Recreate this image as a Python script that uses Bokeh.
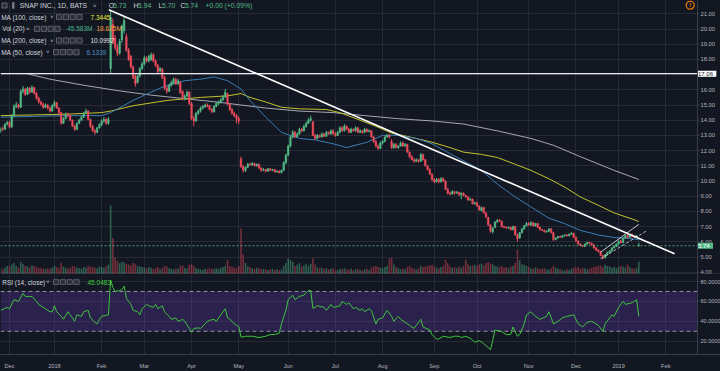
import numpy as np
from bokeh.plotting import figure
from bokeh.layouts import column
from bokeh.models import (Range1d, FixedTicker, Span, Label,
                          BoxAnnotation, Grid, ColumnDataSource, GlobalInlineStyleSheet)
from bokeh.embed import file_html
from bokeh.resources import INLINE

# ---------------- data ----------------
FIRST_BAR = -4          # index of first bar (27 Nov 2017); index 0 = 1 Dec 2017
MONTH_TICKS = [0, 20, 41, 60, 81, 102, 124, 145, 166, 189, 208, 231, 252, 271, 292]
MONTH_LABELS = ["Dec", "2018", "Feb", "Mar", "Apr", "May", "Jun", "Jul", "Aug",
                "Sep", "Oct", "Nov", "Dec", "2019", "Feb"]
PRICE_TICKS = [4, 5, 6, 7, 8, 9, 10, 11, 12, 13, 14, 15, 16, 17, 18, 19, 20, 21]
RSI_TICKS = [20, 40, 60, 80]

OPEN = [
    13.25, 13.45, 13.40, 13.75,
    13.85, 13.55, 14.30, 14.90, 15.00, 14.85, 15.90, 16.05, 15.70, 16.10, 15.85, 16.15, 15.75, 15.45, 15.20, 15.05, 14.85, 15.00, 14.80, 14.60,
    14.95, 15.15, 14.80, 14.50, 13.80, 14.10, 14.40, 14.30, 14.00, 13.60, 13.40, 13.80, 14.00, 14.20, 14.45, 14.60, 14.05, 13.60, 13.30, 13.20, 13.50,
    13.70, 13.95, 14.05, 13.80, 17.40, 20.30, 19.40, 18.80, 18.40, 19.30, 19.90, 19.50, 18.60, 18.20, 17.50, 16.90, 16.50, 16.90, 17.40,
    17.70, 18.10, 17.90, 18.00, 18.30, 17.90, 17.60, 17.25, 17.35, 16.80, 16.10, 15.90, 16.30, 16.40, 16.70, 16.40, 16.50, 15.90, 15.40, 15.60, 15.85,
    15.10, 14.10, 13.95, 14.45, 14.60, 14.80, 14.90, 15.00, 14.95, 14.70, 14.55, 14.90, 15.10, 15.20, 15.35, 15.55, 15.75, 15.05, 14.70, 14.45, 14.30,
    14.10, 11.45, 10.95, 10.70, 10.90, 11.10, 11.05, 11.15, 11.00, 11.10, 10.85, 10.70, 10.75, 10.65, 10.80, 10.70, 10.75, 10.60, 10.65, 10.55, 10.70, 11.20,
    11.70, 12.30, 12.90, 13.20, 12.90, 13.10, 13.40, 13.30, 13.60, 13.80, 14.00, 13.90, 13.00, 12.80, 13.00, 12.90, 13.10, 12.95, 13.20, 13.10, 13.30,
    13.10, 13.00, 13.20, 13.50, 13.30, 13.60, 13.40, 13.20, 13.40, 13.30, 13.50, 13.20, 13.30, 13.20, 13.40, 13.25, 13.30, 12.90, 12.60, 12.30, 12.15,
    12.50, 12.60, 12.90, 13.00, 12.60, 12.20, 12.40, 12.20, 12.30, 12.50, 12.30, 12.40, 11.90, 11.60, 11.40, 11.30, 11.40, 11.30, 11.75, 11.40, 11.00, 10.75, 10.45,
    10.10, 9.95, 10.10, 9.95, 10.15, 10.00, 9.45, 9.20, 9.15, 9.30, 9.20, 9.25, 9.10, 9.20, 9.05, 8.95, 8.75, 8.80, 8.50,
    8.55, 8.35, 8.05, 8.25, 7.90, 7.60, 7.10, 6.65, 6.95, 7.30, 7.40, 7.35, 7.00, 6.95, 6.90, 6.95, 6.80, 7.00, 6.45, 6.25, 6.60, 6.85, 7.05,
    7.20, 7.10, 7.25, 7.05, 7.20, 6.95, 6.80, 6.75, 6.65, 6.70, 6.85, 6.60, 6.15, 6.25, 6.35, 6.30, 6.40, 6.45, 6.40, 6.50, 6.55,
    6.30, 6.05, 5.85, 5.75, 5.70, 5.85, 5.95, 5.90, 5.80, 5.60, 5.45, 5.35, 5.10, 4.95, 5.15, 5.30, 5.40, 5.60, 5.70,
    5.85, 6.05, 5.95, 6.25, 6.40, 6.30, 6.45, 6.35, 6.30, 5.73,
]
CLOSE = [
    13.45, 13.40, 13.75, 13.85,
    13.55, 14.30, 14.90, 15.00, 14.85, 15.90, 16.05, 15.70, 16.10, 15.85, 16.15, 15.75, 15.45, 15.20, 15.05, 14.85, 15.00, 14.80, 14.60, 14.95,
    15.15, 14.80, 14.50, 13.80, 14.10, 14.40, 14.30, 14.00, 13.60, 13.40, 13.80, 14.00, 14.20, 14.45, 14.60, 14.05, 13.60, 13.30, 13.20, 13.50, 13.70,
    13.95, 14.05, 13.80, 14.05, 20.75, 19.20, 18.80, 18.40, 19.20, 20.20, 20.55, 18.60, 18.00, 17.50, 16.80, 16.40, 16.90, 17.40, 17.70,
    18.10, 17.90, 18.20, 18.30, 17.90, 17.60, 17.20, 17.40, 16.80, 16.10, 15.90, 16.30, 16.50, 16.70, 16.40, 16.60, 15.80, 15.40, 15.60, 15.85, 15.10,
    14.10, 13.95, 14.45, 14.60, 14.80, 14.90, 15.00, 14.90, 14.70, 14.55, 14.90, 15.10, 15.20, 15.35, 15.55, 15.85, 15.05, 14.70, 14.45, 14.30, 14.10,
    13.95, 10.95, 10.70, 10.90, 11.10, 11.05, 11.15, 11.00, 11.10, 10.85, 10.70, 10.75, 10.65, 10.80, 10.70, 10.75, 10.60, 10.65, 10.55, 10.70, 11.20, 11.70,
    12.30, 12.90, 13.20, 12.90, 13.10, 13.40, 13.30, 13.60, 13.80, 14.00, 14.10, 13.00, 12.80, 13.00, 12.90, 13.10, 12.95, 13.20, 13.10, 13.30, 13.10,
    13.00, 13.20, 13.50, 13.30, 13.60, 13.40, 13.20, 13.40, 13.30, 13.50, 13.20, 13.30, 13.20, 13.40, 13.25, 13.30, 12.90, 12.60, 12.30, 12.15, 12.50,
    12.60, 12.90, 13.00, 12.90, 12.20, 12.40, 12.20, 12.30, 12.50, 12.30, 12.40, 11.90, 11.60, 11.40, 11.30, 11.40, 11.30, 11.75, 11.40, 11.00, 10.75, 10.45, 10.10,
    9.95, 10.10, 9.95, 10.15, 10.00, 9.45, 9.20, 9.15, 9.30, 9.20, 9.25, 9.10, 9.20, 9.05, 8.95, 8.75, 8.80, 8.50, 8.55,
    8.35, 8.10, 8.25, 7.90, 7.65, 7.10, 6.70, 6.90, 7.30, 7.40, 7.35, 7.00, 6.95, 6.90, 6.95, 6.80, 7.00, 6.45, 6.20, 6.60, 6.85, 7.05, 7.20,
    7.10, 7.25, 7.05, 7.20, 6.95, 6.80, 6.75, 6.65, 6.70, 6.85, 6.60, 6.15, 6.25, 6.35, 6.30, 6.40, 6.45, 6.40, 6.50, 6.55, 6.30,
    6.05, 5.85, 5.75, 5.70, 5.85, 5.95, 5.90, 5.80, 5.60, 5.45, 5.35, 5.10, 4.95, 5.15, 5.30, 5.40, 5.60, 5.70, 5.85,
    6.05, 5.95, 6.25, 6.40, 6.30, 6.45, 6.35, 6.30, 6.40, 5.74,
]
HIGH = [
    13.55, 13.60, 13.80, 13.95,
    13.95, 14.40, 15.05, 15.20, 15.10, 16.00, 16.25, 16.10, 16.20, 16.20, 16.30, 16.20, 15.85, 15.55, 15.30, 15.15, 15.10, 15.05, 14.90, 15.05,
    15.30, 15.20, 14.85, 14.55, 14.20, 14.50, 14.50, 14.35, 14.05, 13.70, 13.85, 14.10, 14.30, 14.55, 14.75, 14.65, 14.10, 13.70, 13.40, 13.55, 13.80,
    14.05, 14.20, 14.15, 14.20, 21.22, 20.70, 19.60, 19.00, 19.35, 20.30, 20.80, 19.70, 18.75, 18.30, 17.60, 17.00, 17.00, 17.50, 17.85,
    18.25, 18.20, 18.30, 18.45, 18.40, 18.00, 17.70, 17.50, 17.45, 16.90, 16.25, 16.40, 16.60, 16.80, 16.80, 16.70, 16.55, 15.95, 15.70, 15.95, 15.90,
    15.20, 14.30, 14.55, 14.70, 14.90, 15.00, 15.10, 15.10, 15.00, 14.80, 15.00, 15.20, 15.30, 15.45, 15.65, 16.05, 15.80, 15.10, 14.80, 14.55, 14.40,
    14.25, 11.60, 11.05, 10.95, 11.20, 11.20, 11.25, 11.20, 11.15, 11.15, 10.90, 10.85, 10.80, 10.85, 10.85, 10.80, 10.80, 10.70, 10.70, 10.75, 11.30, 11.80,
    12.40, 13.00, 13.35, 13.30, 13.20, 13.50, 13.50, 13.70, 13.90, 14.15, 14.30, 13.95, 13.10, 13.10, 13.05, 13.20, 13.15, 13.30, 13.25, 13.40, 13.40,
    13.20, 13.30, 13.60, 13.60, 13.75, 13.65, 13.50, 13.50, 13.45, 13.60, 13.55, 13.40, 13.35, 13.50, 13.45, 13.40, 13.35, 12.95, 12.70, 12.40, 12.60,
    12.70, 13.00, 13.10, 13.10, 12.75, 12.50, 12.50, 12.35, 12.60, 12.60, 12.50, 12.45, 11.95, 11.70, 11.50, 11.50, 11.45, 11.85, 11.80, 11.45, 11.05, 10.85, 10.50,
    10.20, 10.20, 10.20, 10.25, 10.25, 10.05, 9.55, 9.30, 9.40, 9.35, 9.35, 9.30, 9.25, 9.25, 9.10, 9.00, 8.90, 8.85, 8.65,
    8.65, 8.40, 8.30, 8.30, 7.95, 7.65, 7.15, 6.95, 7.35, 7.50, 7.50, 7.40, 7.05, 7.00, 7.00, 7.00, 7.05, 7.05, 6.55, 6.65, 6.90, 7.10, 7.30,
    7.30, 7.35, 7.30, 7.25, 7.25, 7.00, 6.85, 6.80, 6.75, 6.90, 6.90, 6.65, 6.30, 6.40, 6.40, 6.45, 6.50, 6.50, 6.55, 6.65, 6.60,
    6.35, 6.10, 5.90, 5.80, 5.90, 6.00, 6.00, 5.95, 5.85, 5.65, 5.50, 5.40, 5.15, 5.20, 5.35, 5.45, 5.65, 5.75, 5.90,
    6.10, 6.15, 6.30, 6.50, 6.50, 6.50, 6.55, 6.45, 6.45, 5.94,
]
LOW = [
    13.15, 13.30, 13.35, 13.65,
    13.45, 13.50, 14.20, 14.80, 14.75, 14.80, 15.75, 15.60, 15.65, 15.75, 15.80, 15.70, 15.35, 15.10, 14.95, 14.75, 14.80, 14.70, 14.50, 14.55,
    14.85, 14.75, 14.40, 13.70, 13.75, 14.05, 14.20, 13.95, 13.55, 13.30, 13.35, 13.75, 13.95, 14.15, 14.40, 14.00, 13.50, 13.25, 13.05, 13.15, 13.45,
    13.60, 13.85, 13.70, 13.70, 17.06, 19.00, 18.60, 18.20, 18.30, 19.10, 19.70, 18.50, 17.90, 17.40, 16.70, 16.20, 16.40, 16.80, 17.30,
    17.60, 17.80, 17.80, 17.90, 17.80, 17.50, 17.10, 17.15, 16.70, 16.00, 15.75, 15.85, 16.20, 16.35, 16.30, 16.30, 15.75, 15.30, 15.30, 15.50, 15.00,
    14.00, 13.60, 13.90, 14.35, 14.50, 14.70, 14.80, 14.85, 14.65, 14.45, 14.50, 14.85, 15.00, 15.10, 15.25, 15.45, 15.00, 14.60, 14.35, 14.20, 13.80,
    13.75, 10.85, 10.55, 10.60, 10.85, 11.00, 11.00, 10.95, 10.95, 10.80, 10.60, 10.65, 10.55, 10.60, 10.65, 10.65, 10.55, 10.55, 10.50, 10.50, 10.65, 11.10,
    11.65, 12.20, 12.80, 12.85, 12.85, 13.05, 13.20, 13.25, 13.50, 13.75, 13.90, 12.95, 12.70, 12.75, 12.85, 12.85, 12.90, 12.90, 13.05, 13.05, 13.05,
    12.90, 12.95, 13.15, 13.25, 13.25, 13.35, 13.15, 13.15, 13.25, 13.25, 13.15, 13.15, 13.10, 13.15, 13.20, 13.20, 12.85, 12.50, 12.20, 12.05, 12.10,
    12.40, 12.55, 12.85, 12.80, 12.10, 12.10, 12.15, 12.10, 12.25, 12.25, 12.25, 11.85, 11.50, 11.35, 11.20, 11.25, 11.20, 11.25, 11.35, 10.95, 10.70, 10.40, 10.00,
    9.85, 9.90, 9.85, 9.90, 9.95, 9.40, 9.10, 9.05, 9.10, 9.10, 9.15, 9.00, 8.80, 9.00, 8.90, 8.70, 8.70, 8.45, 8.45,
    8.30, 8.05, 8.00, 7.85, 7.55, 7.05, 6.60, 6.55, 6.90, 7.25, 7.30, 6.95, 6.90, 6.85, 6.85, 6.75, 6.75, 6.40, 6.00, 6.20, 6.55, 6.80, 7.00,
    7.05, 7.05, 7.00, 7.00, 6.90, 6.75, 6.70, 6.60, 6.60, 6.65, 6.55, 6.05, 6.10, 6.20, 6.25, 6.25, 6.35, 6.35, 6.35, 6.45, 6.25,
    6.00, 5.80, 5.70, 5.65, 5.65, 5.80, 5.85, 5.75, 5.55, 5.40, 5.30, 5.05, 4.85, 4.90, 5.10, 5.25, 5.35, 5.55, 5.65,
    5.80, 5.90, 5.90, 6.20, 6.25, 6.25, 6.30, 6.25, 6.25, 5.70,
]
VOLUME_M = [
    22, 18, 25, 30,
    28, 35, 40, 30, 25, 45, 38, 30, 28, 25, 32, 30, 26, 24, 22, 20, 18, 22, 20, 24,
    30, 26, 22, 40, 28, 24, 20, 22, 30, 28, 25, 22, 20, 26, 24, 30, 28, 26, 24, 22, 28,
    26, 24, 30, 35, 242, 127, 60, 48, 40, 45, 42, 38, 35, 32, 40, 38, 30, 28, 26,
    25, 22, 26, 24, 20, 22, 26, 18, 24, 30, 28, 22, 20, 18, 22, 20, 30, 32, 24, 22, 34,
    36, 30, 22, 20, 18, 16, 20, 18, 22, 20, 18, 22, 20, 24, 26, 30, 52, 30, 26, 24, 22,
    30, 161, 70, 40, 28, 26, 22, 20, 24, 22, 18, 20, 18, 16, 18, 20, 16, 18, 15, 18, 30, 40,
    56, 50, 45, 30, 34, 40, 28, 32, 36, 30, 38, 56, 35, 26, 22, 24, 20, 22, 18, 20, 22,
    14, 16, 20, 18, 22, 18, 16, 20, 15, 18, 20, 16, 14, 18, 20, 16, 24, 28, 30, 26, 24,
    22, 26, 30, 56, 58, 35, 26, 22, 18, 20, 18, 26, 30, 24, 20, 18, 22, 30, 26, 28, 30, 32, 34,
    28, 24, 22, 26, 30, 52, 40, 30, 24, 26, 22, 28, 24, 30, 52, 36, 30, 32, 34,
    30, 35, 38, 32, 40, 44, 38, 36, 30, 28, 26, 30, 24, 26, 22, 28, 30, 40, 88, 50, 36, 34, 30,
    26, 22, 20, 24, 22, 18, 20, 22, 18, 16, 22, 30, 24, 20, 18, 16, 14, 18, 16, 20, 24,
    22, 26, 20, 24, 22, 18, 20, 24, 26, 28, 30, 32, 26, 34, 30, 28, 24, 26, 22,
    26, 30, 28, 24, 35, 26, 22, 20, 24, 45.58,
]
MA50_PTS = [(-4, 14.2), (11, 14.25), (26, 14.3), (41, 14.3), (45, 14.5), (55, 15.3), (63, 15.85), (70, 16.3),
            (78, 16.6), (85, 16.7), (91, 16.85), (97, 16.6), (103, 16.05), (107, 15.3), (114, 14.2), (121, 13.2),
            (129, 12.8), (136, 12.7), (144, 12.45), (150, 12.2), (159, 12.55), (166, 13.0), (173, 13.0), (181, 12.8),
            (188, 12.45), (196, 11.8), (203, 11.25), (210, 10.7), (217, 9.8), (225, 8.95), (232, 8.3), (240, 7.55),
            (247, 7.2), (254, 6.75), (262, 6.45), (269, 6.28), (277, 6.2), (280, 6.13)]
MA100_PTS = [(-4, 14.3), (11, 14.35), (26, 14.4), (41, 14.5), (45, 14.6), (55, 14.95), (70, 15.3), (85, 15.5),
             (97, 15.6), (103, 15.75), (107, 15.5), (114, 15.2), (121, 14.85), (129, 14.75), (141, 14.7), (147, 14.5),
             (156, 14.0), (163, 13.6), (170, 13.15), (178, 12.9), (188, 12.55), (196, 12.2), (202, 11.9), (210, 11.75),
             (217, 11.55), (225, 11.1), (232, 10.7), (240, 10.15), (247, 9.6), (254, 8.95), (262, 8.4), (269, 7.9),
             (277, 7.5), (280, 7.34)]
MA200_PTS = [(8, 17.05), (18, 16.7), (33, 16.3), (48, 15.95), (63, 15.65), (79, 15.4), (92, 15.2), (103, 15.0),
             (114, 14.8), (129, 14.6), (144, 14.5), (158, 14.3), (173, 14.1), (188, 13.95), (202, 13.75), (217, 13.3),
             (232, 12.8), (242, 12.35), (254, 11.6), (269, 10.7), (280, 10.1)]
RSI_PTS = [(-4, 51), (-1, 54), (0, 52.6), (2, 61.7), (4, 60), (6, 68), (7, 65), (9, 65), (10, 65), (12, 60), (13, 57),
           (15, 54), (16, 52.6), (18, 49.6), (19, 49.6), (20, 55.6), (21, 49.6), (23, 45), (24, 42), (26, 49.6),
           (27, 46.5), (29, 40), (30, 46.5), (32, 45), (33, 49.6), (35, 51), (36, 43.5), (38, 39), (39, 37.4),
           (40, 42), (41, 45), (44, 46.5), (45, 81.5), (46, 74), (47, 70), (49, 71), (50, 71.8), (51, 75.4),
           (52, 63), (54, 57), (55, 51), (57, 49.6), (58, 46.5), (59, 52.6), (61, 57), (62, 55.6), (64, 54),
           (65, 57), (66, 52.6), (68, 55.6), (69, 49.6), (71, 45), (72, 42), (74, 43.5), (75, 40), (77, 42),
           (78, 40), (80, 32.8), (81, 29), (82, 32.8), (84, 33.4), (85, 32.8), (87, 37.4), (88, 40), (89, 41),
           (91, 42), (92, 40), (94, 46.5), (96, 52.6), (97, 43.5), (98, 42), (99, 40), (100, 37.4), (101, 36),
           (102, 35), (103, 24), (105, 25), (108, 25), (111, 23.7), (114, 25), (116, 26.7), (118, 26.7), (120, 28),
           (121, 37.4), (123, 51), (124, 61.7), (126, 66.3), (127, 61.7), (129, 65), (131, 66.3), (133, 71),
           (134, 71), (135, 53), (137, 55.6), (140, 54), (141, 51), (143, 57), (144, 54), (147, 55.6), (148, 60),
           (150, 57), (151, 58.7), (153, 52.6), (154, 54), (156, 51), (157, 52.6), (158, 49.6), (160, 52.6),
           (161, 51), (163, 37.4), (164, 42), (166, 43.5), (168, 51), (170, 45), (171, 40), (173, 45), (174, 42),
           (176, 39), (178, 36), (180, 32.8), (181, 36), (183, 42), (184, 34.3), (187, 31.3), (188, 26.7),
           (190, 22.2), (191, 22.2), (193, 25), (196, 23.7), (198, 25), (200, 25), (201, 23.7), (203, 25),
           (205, 23), (207, 19), (209, 20.6), (211, 17.6), (214, 11.5), (215, 20.6), (216, 31.3), (219, 29.8),
           (221, 26.7), (223, 26.7), (224, 34.3), (226, 25), (227, 26.7), (229, 37.4), (230, 46.5), (232, 49.6),
           (234, 45), (236, 42), (239, 45), (240, 49.6), (242, 37.4), (244, 40), (246, 43.5), (248, 45),
           (251, 46.5), (253, 37.4), (255, 34.3), (257, 39), (259, 40), (262, 36), (264, 29.8), (265, 37.4),
           (268, 46.5), (269, 45), (271, 54), (273, 60), (274, 57), (277, 58.7), (279, 61.7), (280, 45.05)]
TREND_X = [44.2, 295.9]
TREND_Y = [21.26, 5.21]
CHANNEL_SOLID_X = [263.0, 280.0]
CHANNEL_SOLID_Y = [5.32, 7.15]
CHANNEL_DASH_X = [263.0, 283.7]
CHANNEL_DASH_Y = [4.88, 6.74]
H_LEVEL = 17.06
LAST_PRICE = 5.74
RSI_UPPER, RSI_LOWER = 70, 30

assert len(OPEN) == len(CLOSE) == len(HIGH) == len(LOW) == len(VOLUME_M)

# ---------------- styling ----------------
BG = "#131722"
GRID = "#262a36"
FRAME = "#3a3e4a"
AXTXT = "#b2b5be"
UP = "#53b987"
DN = "#eb4d5c"
FONT = "Liberation Sans"
LT = "#d1d4dc"


# reference-pixel -> data helpers (layout only)
def X(px):
    return (px - 9.0) / 2.2476


def P(py):
    return 21.0 - (py - 13.3) / 15.2


def R(py):
    return 80.0 - (py - 281.7) / 1.095


SCALE_LEFT = X(697)     # where the price-scale column starts
xr = Range1d(X(0), X(720))

idx = np.arange(FIRST_BAR, FIRST_BAR + len(CLOSE))
o = np.array(OPEN)
c = np.array(CLOSE)
up = c >= o
src = ColumnDataSource(dict(
    x=idx, top=np.maximum(o, c), bottom=np.minimum(o, c),
    high=np.array(HIGH), low=np.array(LOW),
    color=np.where(up, UP, DN), vol=np.array(VOLUME_M)))


def make_text(x, y, text, color, size="6.5px", bold=False, bg=None, align="left"):
    kw = dict(x=x, y=y, text=text, text_color=color, text_font=FONT, text_font_size=size,
              text_baseline="middle", text_align=align)
    if bold:
        kw["text_font_style"] = "bold"
    if bg:
        kw["background_fill_color"] = bg
    return Label(**kw)


def add_text(fig, *args, **kwargs):
    fig.add_layout(make_text(*args, **kwargs))


def icon_boxes(fig, x0, ycen, conv, n=4):
    lefts = [X(x0 + k * 6.8) for k in range(n)]
    rights = [X(x0 + k * 6.8 + 5.2) for k in range(n)]
    fig.quad(left=lefts, right=rights, top=[conv(ycen - 2.6)] * n, bottom=[conv(ycen + 2.6)] * n,
             fill_color="#2a2e39", line_color="#6a6d78", line_width=0.8)


def price_scale_column(fig, ticks, labels, top, bottom, size):
    fig.quad(left=[SCALE_LEFT], right=[X(724)], top=[top], bottom=[bottom], fill_color=BG, line_color=None)
    fig.segment(x0=[SCALE_LEFT] * len(ticks), y0=ticks, x1=[X(699)] * len(ticks), y1=ticks,
                line_color=FRAME, line_width=1)
    fig.add_layout(Span(location=SCALE_LEFT, dimension="height", line_color=FRAME, line_width=1))
    for t, lab in zip(ticks, labels):
        add_text(fig, X(700.0), t, lab, AXTXT, size=size)


# ---------------- main pane ----------------
p1 = figure(width=720, height=274, x_range=xr, y_range=Range1d(P(274), P(0)),
            output_backend="svg", toolbar_location=None, x_axis_location=None,
            y_axis_location=None, min_border_left=0, min_border_top=0,
            min_border_bottom=0, min_border_right=0,
            background_fill_color=BG, border_fill_color=BG, outline_line_color=None)
p1.extra_y_ranges = {"vol": Range1d(0, 274 / 0.285)}

if len(p1.xgrid) == 0:
    p1.add_layout(Grid(dimension=0), "center")
if len(p1.ygrid) == 0:
    p1.add_layout(Grid(dimension=1), "center")
p1.xgrid.ticker = FixedTicker(ticks=MONTH_TICKS)
p1.xgrid.grid_line_color = GRID
p1.ygrid.ticker = FixedTicker(ticks=PRICE_TICKS)
p1.ygrid.grid_line_color = GRID

# volume
p1.vbar(x="x", width=0.7, top="vol", bottom=0, source=src, y_range_name="vol",
        fill_color="color", fill_alpha=0.45, line_color=None)
# moving averages
p1.line([a for a, b in MA200_PTS], [b for a, b in MA200_PTS], line_color="#c9ccd4", line_alpha=0.8, line_width=1)
p1.line([a for a, b in MA100_PTS], [b for a, b in MA100_PTS], line_color="#d6d62c", line_alpha=0.9, line_width=1)
p1.line([a for a, b in MA50_PTS], [b for a, b in MA50_PTS], line_color="#3a7db5", line_width=1)
# candles
p1.segment(x0="x", y0="low", x1="x", y1="high", source=src, line_color="color", line_width=1)
p1.vbar(x="x", width=0.7, top="top", bottom="bottom", source=src,
        fill_color="color", line_color="color", line_width=0.5)

# drawings
p1.line([X(0), SCALE_LEFT], [LAST_PRICE, LAST_PRICE], line_color=UP, line_dash="2 2", line_width=1, line_alpha=0.85)
p1.line([X(0), SCALE_LEFT], [H_LEVEL, H_LEVEL], line_color="#e8eaf0", line_width=1.3)
p1.line(TREND_X, TREND_Y, line_color="#ffffff", line_width=1.6)
p1.line(CHANNEL_SOLID_X, CHANNEL_SOLID_Y, line_color="#e0e3eb", line_width=1, line_alpha=0.85)
p1.line(CHANNEL_DASH_X, CHANNEL_DASH_Y, line_color="#e0e3eb", line_width=1, line_dash="3 2", line_alpha=0.8)

# alert icon
p1.scatter(x=[X(689.7)], y=[P(4.7)], marker="circle", size=8, fill_alpha=0,
           line_color="#f57c00", line_width=1.2)
add_text(p1, X(689.7), P(4.9), "!", "#f57c00", size="6px", bold=True, align="center")

# price scale
price_scale_column(p1, PRICE_TICKS, ["%.2f" % t for t in PRICE_TICKS], P(-2), P(276), "5.8px")
add_text(p1, X(697.5), H_LEVEL, " 17.06 ", "#131722", size="6px", bg="#ffffff")
add_text(p1, X(697.5), LAST_PRICE, " 5.74 ", "#ffffff", size="6px", bg=UP)
p1.add_layout(Span(location=P(273.5), dimension="width", line_color=FRAME, line_width=1))

# legend rows
p1.quad(left=[X(1.5)], right=[X(6.5)], top=[P(2.5)], bottom=[P(7.5)], fill_color="#2a2e39",
        line_color="#787b86", line_width=0.8)
p1.quad(left=[X(11.5)], right=[X(14.0)], top=[P(1.8)], bottom=[P(8.2)], fill_color="#787b86", line_color=None)
add_text(p1, X(19.3), P(5.0), "SNAP INC., 1D, BATS", LT, size="6.8px")
add_text(p1, X(92.5), P(5.0), "˅", LT, size="6px")
ohlc = [(108.3, "O", LT), (112.6, "5.73", UP), (133.0, "H", LT), (137.6, "5.94", UP),
        (158.0, "L", LT), (161.6, "5.70", UP), (180.0, "C", LT), (184.4, "5.74", UP),
        (205.0, "+0.00 (+0.09%)", UP)]
for px, t, col in ohlc:
    add_text(p1, X(px), P(5.0), t, col, size="6.8px")

rows = [
    (16.5, "MA (100, close)", 0.7, 49.5, 56.0, [(90.0, "7.3445", "#f0f03a")]),
    (28.3, "Vol (20)", 1.7, 25.5, 34.0, [(66.7, "45.583M", "#46b48c"), (96.0, "18.625M", "#f59d3d")]),
    (40.0, "MA (200, close)", 0.7, 49.5, 56.0, [(90.0, "10.0992", "#e6e8ee")]),
    (51.7, "MA (50, close)", 0.7, 45.5, 53.0, [(86.0, "6.1339", "#4a90c8")]),
]
for yc, name, xn, xch, xic, vals in rows:
    add_text(p1, X(xn), P(yc), name, LT)
    add_text(p1, X(xch), P(yc), "˅", LT, size="6px")
    icon_boxes(p1, xic, yc, P)
    for px, t, col in vals:
        add_text(p1, X(px), P(yc), t, col)

# ---------------- RSI pane ----------------
p2 = figure(width=720, height=97, x_range=xr, y_range=Range1d(R(362), R(274)),
            output_backend="svg", toolbar_location=None, y_axis_location=None,
            min_border_left=0, min_border_top=0, min_border_bottom=0, min_border_right=0,
            background_fill_color=BG, border_fill_color=BG, outline_line_color=None)
if len(p2.ygrid) == 0:
    p2.add_layout(Grid(dimension=1), "center")
p2.xgrid.ticker = FixedTicker(ticks=MONTH_TICKS)
p2.xgrid.grid_line_color = GRID
p2.ygrid.ticker = FixedTicker(ticks=RSI_TICKS)
p2.ygrid.grid_line_color = GRID

xa = p2.xaxis[0]
xa.ticker = FixedTicker(ticks=MONTH_TICKS)
xa.major_label_overrides = {t: l for t, l in zip(MONTH_TICKS, MONTH_LABELS)}
xa.major_label_text_font_size = "5.6px"
xa.major_label_text_font = FONT
xa.major_label_text_color = AXTXT
xa.major_tick_line_color = None
xa.minor_tick_line_color = None
xa.axis_line_color = FRAME
xa.major_label_standoff = 2

p2.add_layout(BoxAnnotation(bottom=RSI_LOWER, top=RSI_UPPER, fill_color="#6a3fbf",
                            fill_alpha=0.27, line_color=None, level="underlay"))
for lvl in (RSI_UPPER, RSI_LOWER):
    p2.line([X(0), SCALE_LEFT], [lvl, lvl], line_color="#a3a6af", line_dash="4 3", line_width=1, line_alpha=0.85)
p2.line([a for a, b in RSI_PTS], [b for a, b in RSI_PTS], line_color="#3ec43e", line_width=1)

price_scale_column(p2, RSI_TICKS, ["%.4f" % t for t in RSI_TICKS], R(272), R(364), "5.5px")

add_text(p2, X(1.7), R(282.3), "RSI (14, close)", LT)
add_text(p2, X(45.5), R(282.3), "˅", LT, size="6px")
icon_boxes(p2, 53.0, 282.3, R)
add_text(p2, X(87.0), R(282.3), "45.0483", "#3fd23f")

layout = column(p1, p2, stylesheets=[GlobalInlineStyleSheet(css="body { background-color: #131722; }")])

open("out.html", "w").write(file_html(layout, INLINE))
